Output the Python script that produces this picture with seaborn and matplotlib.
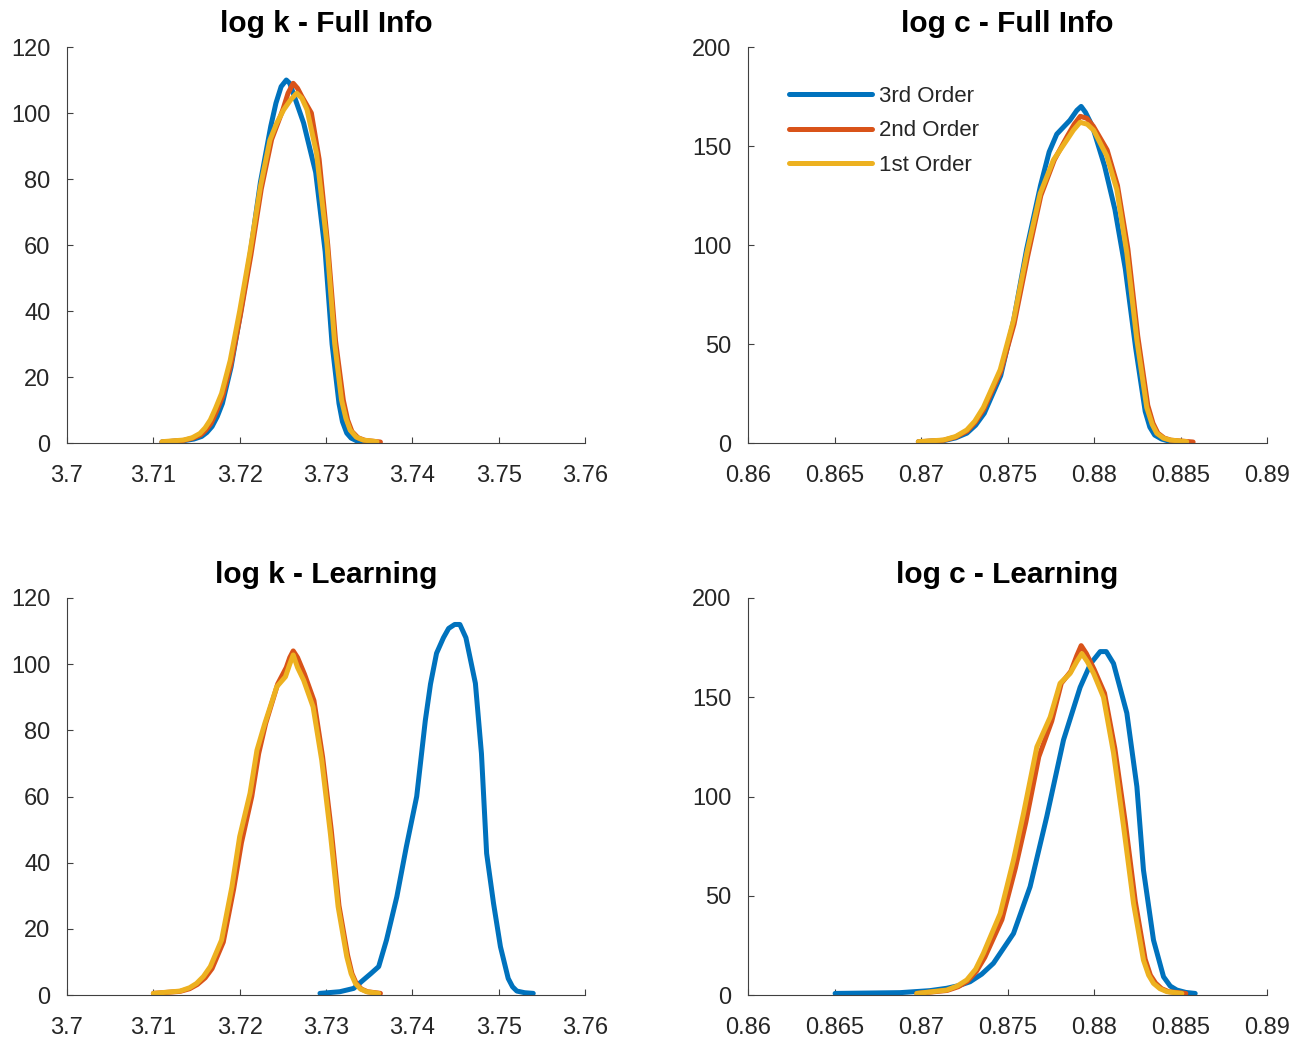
import pandas as pd
import seaborn as sns
import matplotlib.pyplot as plt

# ---- data ----
order_names = ["3rd Order", "2nd Order", "1st Order"]
order_colors = ["#0072BD", "#D95319", "#EDB120"]

# log k - Full Info
k_full_3rd_x = [3.7110, 3.7135, 3.7147, 3.7156, 3.7162, 3.7168, 3.7174, 3.7180, 3.7190, 3.7200, 3.7212,
                3.7224, 3.7236, 3.7242, 3.7248, 3.7254, 3.7258, 3.7262, 3.7274, 3.7288, 3.7299, 3.7307,
                3.7315, 3.7319, 3.7324, 3.7329, 3.7336, 3.7345]
k_full_3rd_y = [0.3, 0.7, 1.2, 2.0, 3.2, 5, 8, 12, 23, 38, 57, 79, 96, 103, 108, 110, 109, 106, 97, 82,
                58, 30, 12, 6.5, 3, 1.5, 0.6, 0.2]
k_full_2nd_x = [3.7110, 3.7135, 3.7146, 3.7155, 3.7161, 3.7167, 3.7173, 3.7180, 3.7190, 3.7201, 3.7213,
                3.7225, 3.7237, 3.7250, 3.7256, 3.7262, 3.7267, 3.7272, 3.7283, 3.7292, 3.7302, 3.7311,
                3.7320, 3.7325, 3.7330, 3.7337, 3.7345, 3.7363]
k_full_2nd_y = [0.3, 0.8, 1.5, 2.5, 4, 6, 9.5, 14, 24, 39, 57, 77, 92, 101, 106, 109, 107.5, 105, 100,
                86, 60, 31, 13, 7, 3.5, 1.6, 0.8, 0.3]
k_full_1st_x = [3.7110, 3.7135, 3.7145, 3.7154, 3.7160, 3.7166, 3.7172, 3.7179, 3.7189, 3.7200, 3.7212,
                3.7224, 3.7235, 3.7243, 3.7251, 3.7259, 3.7266, 3.7272, 3.7278, 3.7289, 3.7301, 3.7310,
                3.7318, 3.7323, 3.7328, 3.7335, 3.7343, 3.7359]
k_full_1st_y = [0.4, 0.9, 1.6, 2.9, 4.6, 7, 10.5, 15, 25, 40, 58, 77.7, 91.8, 97, 101, 104, 106, 104.5,
                101, 87.8, 60.5, 30.2, 13, 7.5, 3.9, 1.8, 0.9, 0.4]

# log c - Full Info
c_full_3rd_x = [0.86984, 0.87130, 0.87200, 0.87265, 0.87315, 0.87365, 0.87460, 0.87535, 0.87610, 0.87690,
                0.87740, 0.87784, 0.87860, 0.87900, 0.87925, 0.87950, 0.87990, 0.88060, 0.88120, 0.88180,
                0.88240, 0.88295, 0.88322, 0.88350, 0.88390, 0.88430, 0.88520]
c_full_3rd_y = [0.6, 1.2, 2.6, 5, 9, 15, 34, 62, 98, 130, 147, 156, 163, 168, 170, 167, 160, 140, 118,
                88, 48, 16, 8, 4, 2, 1, 0.4]
c_full_2nd_x = [0.86984, 0.87130, 0.87200, 0.87265, 0.87313, 0.87362, 0.87460, 0.87537, 0.87615, 0.87692,
                0.87770, 0.87845, 0.87885, 0.87920, 0.87958, 0.87995, 0.88075, 0.88135, 0.88195, 0.88252,
                0.88310, 0.88340, 0.88368, 0.88405, 0.88445, 0.88572]
c_full_2nd_y = [0.6, 1.4, 3, 6, 10.5, 17, 36, 60, 94, 125, 143, 155, 161, 165, 164, 160, 148, 130, 98,
                54, 19, 10, 5, 2.5, 1.4, 0.5]
c_full_1st_x = [0.86984, 0.87129, 0.87200, 0.87264, 0.87310, 0.87360, 0.87457, 0.87534, 0.87611, 0.87688,
                0.87765, 0.87842, 0.87880, 0.87919, 0.87960, 0.87997, 0.88073, 0.88131, 0.88189, 0.88247,
                0.88304, 0.88335, 0.88362, 0.88400, 0.88439, 0.88535]
c_full_1st_y = [0.7, 1.5, 3.3, 6.6, 11, 18, 37, 62, 96, 126, 143, 153, 158, 162, 161, 158, 145, 128, 96,
                52, 18, 9.5, 4.9, 2.5, 1.5, 0.7]

# log k - Learning
k_learn_3rd_x = [3.7293, 3.7316, 3.7332, 3.7343, 3.7352, 3.7361, 3.7370, 3.7382, 3.7393, 3.7405, 3.7415,
                 3.7421, 3.7428, 3.7436, 3.7442, 3.7449, 3.7455, 3.7462, 3.7473, 3.7480, 3.7486, 3.7494,
                 3.7502, 3.7511, 3.7516, 3.7521, 3.7530, 3.7540]
k_learn_3rd_y = [0.5, 1, 2, 4.5, 6.5, 8.6, 16.6, 29.7, 44.8, 60, 83, 94, 103.3, 108, 110.8, 112, 112, 108,
                 94.2, 73, 42.8, 27.7, 14.6, 5, 2.5, 1.2, 0.7, 0.5]
k_learn_2nd_x = [3.7100, 3.7131, 3.7142, 3.7151, 3.7160, 3.7168, 3.7181, 3.7193, 3.7202, 3.7214, 3.7222,
                 3.7230, 3.7244, 3.7254, 3.7258, 3.7262, 3.7267, 3.7275, 3.7286, 3.7296, 3.7306, 3.7315,
                 3.7325, 3.7330, 3.7335, 3.7341, 3.7348, 3.7363]
k_learn_2nd_y = [0.5, 1.1, 1.9, 3.2, 5.2, 8, 16, 32, 46, 60, 73, 82, 94, 99, 102, 104, 102, 97, 89, 72,
                 50, 27, 12, 6.5, 3.5, 1.8, 1, 0.5]
k_learn_1st_x = [3.7100, 3.7131, 3.7142, 3.7150, 3.7158, 3.7166, 3.7179, 3.7191, 3.7200, 3.7212, 3.7220,
                 3.7229, 3.7243, 3.7253, 3.7258, 3.7262, 3.7267, 3.7274, 3.7285, 3.7295, 3.7305, 3.7314,
                 3.7324, 3.7329, 3.7334, 3.7340, 3.7347, 3.7361]
k_learn_1st_y = [0.5, 1.2, 2.2, 3.5, 5.6, 8.6, 16.6, 32.7, 47.9, 61, 74, 82, 93.2, 96.2, 100, 102.8, 99,
                 95.2, 87.1, 71, 48.9, 26.7, 11.6, 6.5, 3.5, 1.8, 1, 0.5]

# log c - Learning
c_learn_3rd_x = [0.86503, 0.86879, 0.87050, 0.87148, 0.87220, 0.87283, 0.87350, 0.87418, 0.87534, 0.87630,
                 0.87726, 0.87823, 0.87919, 0.87980, 0.88035, 0.88070, 0.88112, 0.88189, 0.88247, 0.88285,
                 0.88343, 0.88401, 0.88440, 0.88478, 0.88530, 0.88584]
c_learn_3rd_y = [0.8, 1.2, 2.2, 3.4, 4.8, 6.7, 10.5, 16, 31, 54.6, 89.8, 128.5, 155, 167, 173, 173, 167,
                 142, 105, 63, 27.7, 9.2, 4.5, 2.5, 1.3, 0.8]
c_learn_2nd_x = [0.86975, 0.87150, 0.87215, 0.87268, 0.87320, 0.87368, 0.87467, 0.87545, 0.87605, 0.87680,
                 0.87755, 0.87810, 0.87865, 0.87900, 0.87925, 0.87955, 0.88000, 0.88060, 0.88120, 0.88180,
                 0.88238, 0.88295, 0.88325, 0.88355, 0.88390, 0.88430, 0.88530]
c_learn_2nd_y = [0.8, 2.3, 4.2, 7, 12, 19, 38, 64, 87, 120, 138, 157, 163, 171, 176, 172, 164, 152, 124,
                 87, 47, 18, 10, 6, 3.2, 1.7, 0.8]
c_learn_1st_x = [0.86975, 0.87148, 0.87210, 0.87264, 0.87315, 0.87360, 0.87457, 0.87534, 0.87592, 0.87669,
                 0.87746, 0.87803, 0.87861, 0.87900, 0.87929, 0.87960, 0.87997, 0.88054, 0.88112, 0.88170,
                 0.88228, 0.88285, 0.88315, 0.88343, 0.88380, 0.88420, 0.88507]
c_learn_1st_y = [0.8, 2.5, 4.6, 7.6, 13, 21, 41, 68, 91.5, 125, 140, 157, 162, 168, 172, 168, 162, 150,
                 122, 85, 46, 17.6, 10, 5.9, 3.2, 1.7, 0.8]

k_ticks = [3.70, 3.71, 3.72, 3.73, 3.74, 3.75, 3.76]
k_tick_labels = ["3.7", "3.71", "3.72", "3.73", "3.74", "3.75", "3.76"]
c_ticks = [0.86, 0.865, 0.87, 0.875, 0.88, 0.885, 0.89]
c_tick_labels = ["0.86", "0.865", "0.87", "0.875", "0.88", "0.885", "0.89"]
k_yticks = [0, 20, 40, 60, 80, 100, 120]
c_yticks = [0, 50, 100, 150, 200]

titles = ["log k - Full Info", "log c - Full Info", "log k - Learning", "log c - Learning"]


def to_frame(curves):
    parts = []
    for name, (xs, ys) in zip(order_names, curves):
        parts.append(pd.DataFrame({"x": xs, "y": ys, "order": name}))
    return pd.concat(parts, ignore_index=True)


panels = [
    to_frame([(k_full_3rd_x, k_full_3rd_y), (k_full_2nd_x, k_full_2nd_y), (k_full_1st_x, k_full_1st_y)]),
    to_frame([(c_full_3rd_x, c_full_3rd_y), (c_full_2nd_x, c_full_2nd_y), (c_full_1st_x, c_full_1st_y)]),
    to_frame([(k_learn_3rd_x, k_learn_3rd_y), (k_learn_2nd_x, k_learn_2nd_y), (k_learn_1st_x, k_learn_1st_y)]),
    to_frame([(c_learn_3rd_x, c_learn_3rd_y), (c_learn_2nd_x, c_learn_2nd_y), (c_learn_1st_x, c_learn_1st_y)]),
]

# ---- style ----
sns.set_style("ticks")
plt.rcParams["font.family"] = ["Liberation Sans", "DejaVu Sans"]
plt.rcParams.update({
    "xtick.direction": "in", "ytick.direction": "in",
    "xtick.major.size": 4, "ytick.major.size": 4,
    "xtick.major.width": 0.8, "ytick.major.width": 0.8,
    "axes.edgecolor": "#404040", "axes.linewidth": 0.8,
    "xtick.color": "#404040", "ytick.color": "#404040",
    "xtick.labelcolor": "#262626", "ytick.labelcolor": "#262626",
    "xtick.labelsize": 17, "ytick.labelsize": 17,
})

fig = plt.figure(figsize=(13.01, 10.38), dpi=100)
positions = [
    [0.0515, 0.5732, 0.3982, 0.3815],
    [0.5750, 0.5732, 0.3990, 0.3815],
    [0.0515, 0.0414, 0.3982, 0.3825],
    [0.5750, 0.0414, 0.3990, 0.3825],
]
palette = dict(zip(order_names, order_colors))

for i, (df, pos, title) in enumerate(zip(panels, positions, titles)):
    ax = fig.add_axes(pos)
    sns.lineplot(data=df, x="x", y="y", hue="order", hue_order=order_names, palette=palette,
                 sort=False, estimator=None, linewidth=3.6, ax=ax, legend=(i == 1),
                 solid_capstyle="round", solid_joinstyle="round")
    if i % 2 == 0:
        ax.set_xlim(3.70, 3.76)
        ax.set_ylim(0, 120)
        ax.set_xticks(k_ticks)
        ax.set_xticklabels(k_tick_labels)
        ax.set_yticks(k_yticks)
    else:
        ax.set_xlim(0.86, 0.89)
        ax.set_ylim(0, 200)
        ax.set_xticks(c_ticks)
        ax.set_xticklabels(c_tick_labels)
        ax.set_yticks(c_yticks)
    ax.set_xlabel("")
    ax.set_ylabel("")
    ax.tick_params(axis="x", pad=16)
    ax.tick_params(axis="y", pad=12)
    sns.despine(ax=ax)
    ax.set_title(title, fontsize=21.5, fontweight="bold", pad=11, color="black")
    if i == 1:
        leg = ax.legend(loc="upper left", bbox_to_anchor=(0.062, 0.925), borderaxespad=0,
                        frameon=False, fontsize=16, handlelength=3.75, handletextpad=0.3,
                        labelspacing=0.62)
        for line in leg.get_lines():
            line.set_linewidth(3.6)

fig.savefig("out.png", dpi=100)
